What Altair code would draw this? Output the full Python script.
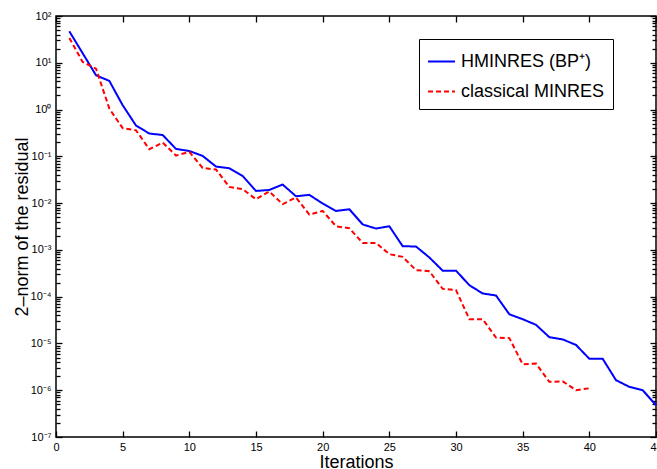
import altair as alt
import pandas as pd

# ---- data ----
hminres = [47, 16, 5.4, 4.1, 1.24, 0.455, 0.307, 0.286, 0.144, 0.130,
           0.102, 0.0605, 0.0557, 0.0381, 0.0182, 0.0191, 0.0249, 0.0140, 0.0150, 0.0098,
           0.0068, 0.0074, 0.0035, 0.00286, 0.0032, 0.0012, 0.00118, 6.9e-4, 3.6e-4, 3.6e-4,
           1.76e-4, 1.17e-4, 1.06e-4, 4.2e-5, 3.3e-5, 2.5e-5, 1.36e-5, 1.22e-5, 9.3e-6, 4.7e-6,
           4.7e-6, 1.64e-6, 1.18e-6, 1.0e-6, 4.8e-7]
classical = [34, 10.4, 7.5, 1.05, 0.40, 0.36, 0.142, 0.197, 0.104, 0.124,
             0.0565, 0.0522, 0.0222, 0.0198, 0.0121, 0.0177, 0.0095, 0.0132, 0.0057, 0.0068,
             0.0032, 0.0029, 0.00141, 0.00141, 8.1e-4, 7.1e-4, 3.7e-4, 3.5e-4, 1.47e-4, 1.38e-4,
             3.3e-5, 3.3e-5, 1.34e-5, 1.3e-5, 3.6e-6, 3.7e-6, 1.51e-6, 1.55e-6, 1.0e-6, 1.1e-6]
series_names = ["HMINRES (BP⁺)", "classical MINRES"]
x_ticks = [0, 5, 10, 15, 20, 25, 30, 35, 40, 45]
y_exps = [-7, -6, -5, -4, -3, -2, -1, 0, 1, 2]
y_labels = ["10⁻⁷", "10⁻⁶", "10⁻⁵", "10⁻⁴", "10⁻³", "10⁻²", "10⁻¹", "10⁰", "10¹", "10²"]

rows = []
for i, v in enumerate(hminres):
    rows.append({"it": i + 1, "val": v, "series": series_names[0]})
for i, v in enumerate(classical):
    rows.append({"it": i + 1, "val": v, "series": series_names[1]})
df = pd.DataFrame(rows)

y_major = [10.0 ** e for e in y_exps]
y_minor = [k * 10.0 ** e for e in y_exps[:-1] for k in range(2, 10)]

W, H = 600, 421
FONT = "Liberation Sans"
xs = alt.Scale(domain=[0, 45], nice=False, zero=False)
ys = alt.Scale(type="log", domain=[1e-7, 1e2], nice=False)

label_arr = "[" + ",".join("'%s'" % s for s in y_labels) + "]"
label_expr = label_arr + "[round(log(datum.value)/LN10)+7]"

leg = alt.Legend(title=None, orient="none", legendX=363, legendY=23,
                 strokeColor="black", fillColor="white", padding=8,
                 labelFontSize=18, labelFont=FONT, labelColor="black",
                 symbolType="stroke", symbolSize=729, symbolStrokeWidth=2,
                 labelOffset=5, rowPadding=6)

lines = alt.Chart(df).mark_line(strokeWidth=2).encode(
    x=alt.X("it:Q", scale=xs, axis=alt.Axis(
        values=x_ticks, format="d", domain=False, ticks=False, grid=False,
        labelFlush=False, labelOverlap=False,
        labelFontSize=11, labelPadding=4, labelColor="black", labelFont=FONT,
        title="Iterations", titleFontSize=18, titleFont=FONT, titleFontWeight="normal",
        titleColor="black", titleY=30, titleBaseline="alphabetic")),
    y=alt.Y("val:Q", scale=ys, axis=alt.Axis(
        values=y_major, labelExpr=label_expr, domain=False, ticks=False, grid=False,
        labelFlush=False, labelOverlap=False,
        labelFontSize=11, labelPadding=5, labelColor="black", labelFont=FONT,
        title="2–norm of the residual", titleFontSize=18, titleFont=FONT,
        titleFontWeight="normal", titleColor="black", titleX=-29, titleY=H / 2,
        titleAngle=270, titleBaseline="alphabetic", titleAlign="center")),
    color=alt.Color("series:N", scale=alt.Scale(domain=series_names, range=["#0000ff", "#ff0000"]),
                    legend=leg),
    strokeDash=alt.StrokeDash("series:N", scale=alt.Scale(domain=series_names, range=[[1, 0], [5, 3]]),
                              legend=leg),
)


def tick_layer(xaxis=None, yaxis=None):
    return alt.Chart(df).mark_point(opacity=0).encode(
        x=alt.X("it:Q", scale=xs, axis=xaxis),
        y=alt.Y("val:Q", scale=ys, axis=yaxis),
    )


def inward(orient, values, size):
    # shift the axis group inward by the tick length, compensate along the axis
    sign = -1 if orient in ("bottom", "right") else 1
    return alt.Axis(orient=orient, values=values, tickSize=size,
                    translate=sign * size + 0.5, tickOffset=-sign * size,
                    labels=False, domain=True, domainOpacity=0, grid=False, title=None,
                    tickColor="black", tickWidth=1.3)


layers = [
    lines,
    tick_layer(xaxis=inward("bottom", x_ticks, 6), yaxis=inward("left", y_major, 6)),
    tick_layer(xaxis=inward("top", x_ticks, 6), yaxis=inward("right", y_major, 6)),
    tick_layer(yaxis=inward("left", y_minor, 4)),
    tick_layer(yaxis=inward("right", y_minor, 4)),
]

chart = alt.layer(*layers).resolve_axis(x="independent", y="independent").properties(
    width=W, height=H,
    autosize=alt.AutoSizeParams(type="none"),
    padding={"left": 56, "top": 16, "right": 1, "bottom": 32},
    background="white",
).configure_view(stroke="black", strokeWidth=1.5)

chart.save("out.html", embed_options={"renderer": "svg", "actions": False})
